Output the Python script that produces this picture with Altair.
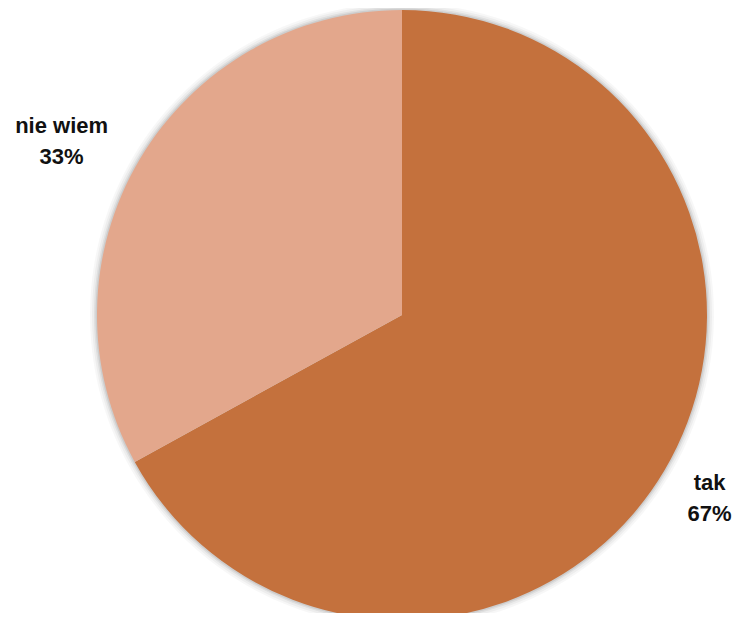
import altair as alt
import pandas as pd

categories = ["tak", "nie wiem"]
values = [67, 33]
labels = ["67%", "33%"]
colors = ["#C4713D", "#E3A78C"]

df = pd.DataFrame({"cat": categories, "val": values, "pct": labels})
df["order"] = range(len(df))
df["label"] = df["cat"] + "\n" + df["pct"]

CX, CY = 394, 307
R = 305

base = alt.Chart(df).encode(
    theta=alt.Theta("val:Q", stack=True),
    order=alt.Order("order:Q"),
    x=alt.value(CX),
    y=alt.value(CY),
)

shadows = [
    base.mark_arc(color="#000000", opacity=op).encode(radius=alt.value(R + dr))
    for dr, op in [(7, 0.03), (5, 0.04), (3, 0.06), (1.5, 0.08)]
]

pie = base.mark_arc().encode(
    radius=alt.value(R),
    color=alt.Color("cat:N", scale=alt.Scale(domain=categories, range=colors), legend=None),
)

def label_layer(cat, rad, dx, dy):
    return base.mark_text(
        font="Liberation Sans", fontWeight="bold", fontSize=22, lineBreak="\n",
        lineHeight=31, align="center", baseline="middle", color="#111111",
        dx=dx, dy=dy,
    ).encode(
        text="label:N",
        radius=alt.value(rad),
        opacity=alt.condition(alt.datum.cat == cat, alt.value(1), alt.value(0)),
    )

chart = alt.layer(
    *shadows, pie,
    label_layer("tak", 362, -4, -16),
    label_layer("nie wiem", 385, -9, 7),
).properties(
    width=727, height=605, padding=0, autosize=alt.AutoSizeParams(type="none")
).configure_view(stroke=None)

chart.save("out.html", embed_options={"renderer": "svg", "actions": False})
